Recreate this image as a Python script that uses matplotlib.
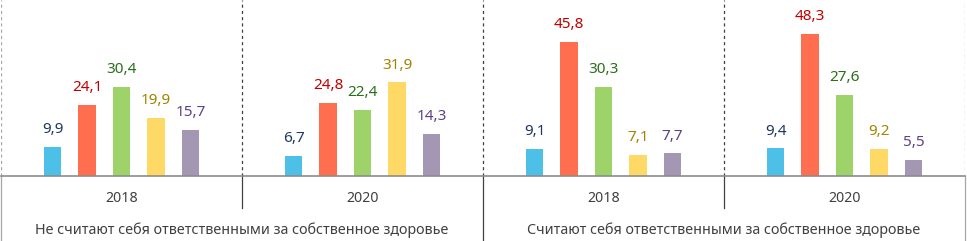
import matplotlib
matplotlib.use('Agg')
import matplotlib.pyplot as plt

# данные
groups = ['Не считают себя ответственными за собственное здоровье',
          'Считают себя ответственными за собственное здоровье']
years = ['2018', '2020']
values = [
    [9.9, 24.1, 30.4, 19.9, 15.7],   # не считают, 2018
    [6.7, 24.8, 22.4, 31.9, 14.3],   # не считают, 2020
    [9.1, 45.8, 30.3, 7.1, 7.7],     # считают, 2018
    [9.4, 48.3, 27.6, 9.2, 5.5],     # считают, 2020
]

bar_colors = ['#4DC0E8', '#FF6E4F', '#9ED36A', '#FFD966', '#A397B3']
label_colors = ['#1F3864', '#C00000', '#2B6E1B', '#A38300', '#5F3F86']

plt.rcParams['font.family'] = ['Noto Sans', 'DejaVu Sans']

fig = plt.figure(figsize=(9.67, 2.41), dpi=100)
ax = fig.add_axes([0.001, 1 - 176 / 241, 0.997, 176 / 241])

step = 0.143
width = 0.072
for g, vals in enumerate(values):
    for i, v in enumerate(vals):
        x = g + 0.5 + (i - 2) * step
        ax.bar(x, v, width=width, color=bar_colors[i])
        ax.annotate(f'{v:.1f}'.replace('.', ','), (x, v), xytext=(0, 10),
                    textcoords='offset points', ha='center', va='baseline',
                    fontsize=11, color=label_colors[i])

ax.set_xlim(0, 4)
ax.set_ylim(0, 60)
for s in ['top', 'right', 'left']:
    ax.spines[s].set_visible(False)
ax.spines['bottom'].set_color('#8c8c8c')
ax.spines['bottom'].set_linewidth(1.2)
ax.set_yticks([])
ax.set_xticks([])

# пунктирные разделители
for xb in range(5):
    c = '#404040' if 0 < xb < 4 else '#a6a6a6'
    ax.axvline(xb, ymin=0, ymax=1, color=c, linestyle=(0, (2.5, 2.5)), linewidth=0.9)

# сплошные линии под осью
tr = ax.get_xaxis_transform()
for xb in range(5):
    low = -0.37 if xb % 2 == 0 else -0.182
    c = '#404040' if 0 < xb < 4 else '#a6a6a6'
    ax.plot([xb, xb], [0, low], color=c, linewidth=0.9, transform=tr, clip_on=False)

# подписи годов и групп
for g in range(4):
    ax.text(g + 0.5, -0.128, years[g % 2], transform=tr, ha='center', va='center',
            fontsize=10.2, color='#404040')
for k, name in enumerate(groups):
    ax.text(2 * k + 1, -0.31, name, transform=tr, ha='center', va='center',
            fontsize=10.3, color='#404040')

fig.savefig('out.png', dpi=100)
